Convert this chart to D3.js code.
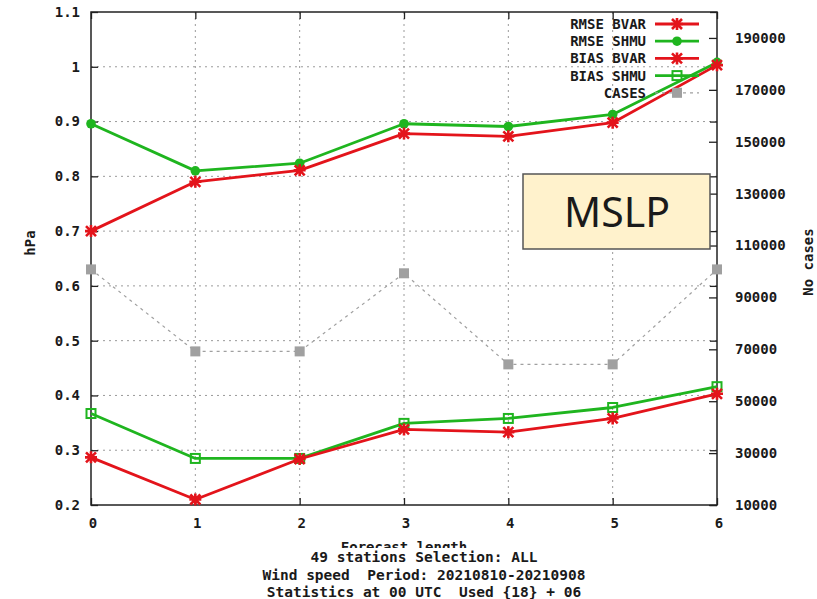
<!DOCTYPE html>
<html>
<head>
<meta charset="utf-8">
<script src="https://cdn.jsdelivr.net/npm/d3@7"></script>
<style>
  html, body { margin: 0; padding: 0; background: #fff; }
  svg text { font-family: "DejaVu Sans Mono", monospace; font-weight: bold; fill: #1a1a1a; white-space: pre; }
</style>
</head>
<body>
<svg id="chart" width="817" height="599"></svg>
<script>
// Forecast lengths (x axis)
const steps = [0, 1, 2, 3, 4, 5, 6];

// Scores in hPa per forecast length
const rmseBvar = [0.700, 0.790, 0.811, 0.878, 0.873, 0.898, 1.003];
const rmseShmu = [0.896, 0.810, 0.824, 0.896, 0.891, 0.913, 1.008];
const biasBvar = [0.287, 0.210, 0.284, 0.338, 0.333, 0.358, 0.403];
const biasShmu = [0.367, 0.285, 0.285, 0.349, 0.358, 0.378, 0.416];

// Number of cases per forecast length (right axis)
const cases = [100800, 69200, 69200, 99300, 64200, 64200, 100800];

// Tick values
const yTicks = [0.2, 0.3, 0.4, 0.5, 0.6, 0.7, 0.8, 0.9, 1.0, 1.1];
const y2Ticks = [10000, 30000, 50000, 70000, 90000, 110000, 130000, 150000, 170000, 190000];

const subtitle = [
  "49 stations Selection: ALL",
  "Wind speed  Period: 20210810-20210908",
  "Statistics at 00 UTC  Used {18} + 06"
];

const RED = "#e3141b", GREEN = "#1fb51f", GREY = "#a0a0a0";

const svg = d3.select("#chart");
const L = 91, R = 717, T = 12, B = 505;

const x = d3.scaleLinear().domain([0, 6]).range([L, R]);
const y = d3.scaleLinear().domain([0.2, 1.1]).range([B, T]);
const y2 = d3.scaleLinear().domain([10000, 200000]).range([B, T]);

// grid
const grid = svg.append("g").attr("stroke", "#9a9a9a").attr("stroke-width", 1)
  .attr("stroke-dasharray", "2,4");
steps.slice(1, -1).forEach(s => grid.append("line")
  .attr("x1", x(s)).attr("x2", x(s)).attr("y1", T).attr("y2", B));
yTicks.slice(1, -1).forEach(v => grid.append("line")
  .attr("x1", L).attr("x2", R).attr("y1", y(v)).attr("y2", y(v)));

// axes: ticks drawn inward, mirrored on the opposite side
const fmtY = v => (v === 1 ? "1" : d3.format(".1f")(v));
const axL = svg.append("g").attr("transform", `translate(${L},0)`)
  .call(d3.axisRight(y).tickValues(yTicks).tickSize(7).tickFormat(""));
const axLm = svg.append("g").attr("transform", `translate(${R},0)`)
  .call(d3.axisLeft(y).tickValues(yTicks).tickSize(7).tickFormat(""));
const axR = svg.append("g").attr("transform", `translate(${R},0)`)
  .call(d3.axisLeft(y2).tickValues(y2Ticks).tickSize(8).tickFormat(""));
const axB = svg.append("g").attr("transform", `translate(0,${B})`)
  .call(d3.axisTop(x).tickValues(steps).tickSize(7).tickFormat(""));
const axT = svg.append("g").attr("transform", `translate(0,${T})`)
  .call(d3.axisBottom(x).tickValues(steps).tickSize(7).tickFormat(""));
[axL, axLm, axR, axB, axT].forEach(g => {
  g.select(".domain").remove();
  g.selectAll(".tick line").attr("stroke", "#222").attr("stroke-width", 1.3);
});

// tick labels
svg.append("g").selectAll("text").data(yTicks).join("text")
  .attr("x", 80).attr("y", d => y(d)).attr("dy", "0.35em")
  .attr("text-anchor", "end").attr("font-size", 14).text(fmtY);
svg.append("g").selectAll("text").data(y2Ticks).join("text")
  .attr("x", 735).attr("y", d => y2(d)).attr("dy", "0.35em")
  .attr("text-anchor", "start").attr("font-size", 14).text(d => d);
svg.append("g").selectAll("text").data(steps).join("text")
  .attr("x", d => x(d) + 2).attr("y", 523).attr("dy", "0.35em")
  .attr("text-anchor", "middle").attr("font-size", 14).text(d => d);

// frame
svg.append("rect").attr("x", L).attr("y", T).attr("width", R - L).attr("height", B - T)
  .attr("fill", "none").attr("stroke", "#222").attr("stroke-width", 1.5);

// axis titles
svg.append("text").attr("transform", "translate(35,243) rotate(-90)")
  .attr("text-anchor", "middle").attr("font-size", 14).text("hPa");
svg.append("text").attr("transform", "translate(813,262) rotate(-90)")
  .attr("text-anchor", "middle").attr("font-size", 14).text("No cases");

// x-axis title, partly covered by the subtitle block below it
svg.append("clipPath").attr("id", "xtitle-clip")
  .append("rect").attr("x", 300).attr("y", 536).attr("width", 220).attr("height", 12);
svg.append("text").attr("x", 404).attr("y", 552)
  .attr("clip-path", "url(#xtitle-clip)")
  .attr("text-anchor", "middle").attr("font-size", 14).text("Forecast length");

svg.append("g").selectAll("text").data(subtitle).join("text")
  .attr("x", 424).attr("y", (d, i) => 557 + i * 17.5).attr("dy", "0.35em")
  .attr("text-anchor", "middle").attr("font-size", 14.5).text(d => d);

// markers
function star(g, cx, cy, color) {
  const s = 5;
  g.append("path")
    .attr("d", `M${cx - s},${cy - s}L${cx + s},${cy + s}M${cx - s},${cy + s}L${cx + s},${cy - s}` +
               `M${cx - s - 1},${cy}L${cx + s + 1},${cy}M${cx},${cy - s - 1}L${cx},${cy + s + 1}`)
    .attr("stroke", color).attr("stroke-width", 2.6).attr("fill", "none");
}
function dot(g, cx, cy, color) {
  g.append("circle").attr("cx", cx).attr("cy", cy).attr("r", 4.8).attr("fill", color);
}
function openSquare(g, cx, cy, color) {
  g.append("rect").attr("x", cx - 4.5).attr("y", cy - 4.5).attr("width", 9).attr("height", 9)
    .attr("fill", "none").attr("stroke", color).attr("stroke-width", 2);
}
function fillSquare(g, cx, cy, color) {
  g.append("rect").attr("x", cx - 5).attr("y", cy - 5).attr("width", 10).attr("height", 10)
    .attr("fill", color);
}

const series = [
  { name: "CASES", values: cases, scale: y2, color: GREY, marker: fillSquare, width: 1.2, dash: "3,4" },
  { name: "BIAS SHMU", values: biasShmu, scale: y, color: GREEN, marker: openSquare, width: 2.8 },
  { name: "RMSE SHMU", values: rmseShmu, scale: y, color: GREEN, marker: dot, width: 2.8 },
  { name: "BIAS BVAR", values: biasBvar, scale: y, color: RED, marker: star, width: 2.8 },
  { name: "RMSE BVAR", values: rmseBvar, scale: y, color: RED, marker: star, width: 2.8 }
];

const plot = svg.append("g");
series.forEach(s => {
  const line = d3.line().x((d, i) => x(steps[i])).y(d => s.scale(d));
  plot.append("path").attr("d", line(s.values)).attr("fill", "none")
    .attr("stroke", s.color).attr("stroke-width", s.width)
    .attr("stroke-dasharray", s.dash || null).attr("stroke-linejoin", "round");
  const mg = plot.append("g");
  s.values.forEach((v, i) => s.marker(mg, x(steps[i]), s.scale(v), s.color));
});

// legend
const legendOrder = ["RMSE BVAR", "RMSE SHMU", "BIAS BVAR", "BIAS SHMU", "CASES"];
const lg = svg.append("g");
legendOrder.forEach((name, i) => {
  const s = series.find(d => d.name === name);
  const ly = 24 + i * 17.2;
  lg.append("text").attr("x", 646).attr("y", ly).attr("dy", "0.35em")
    .attr("text-anchor", "end").attr("font-size", 14).text(name);
  lg.append("line").attr("x1", 655).attr("x2", 699).attr("y1", ly).attr("y2", ly)
    .attr("stroke", s.color).attr("stroke-width", s.width)
    .attr("stroke-dasharray", s.dash || null);
  s.marker(lg, 677, ly, s.color);
});

// variable label box
svg.append("rect").attr("x", 523).attr("y", 174).attr("width", 187).attr("height", 75)
  .attr("fill", "#fff2cc").attr("stroke", "#555").attr("stroke-width", 1.5);
svg.append("text").attr("x", 617).attr("y", 227).attr("text-anchor", "middle")
  .style("font-family", "'Noto Sans', 'Open Sans', sans-serif").style("font-weight", "normal")
  .attr("font-size", 41).text("MSLP");
</script>
</body>
</html>
